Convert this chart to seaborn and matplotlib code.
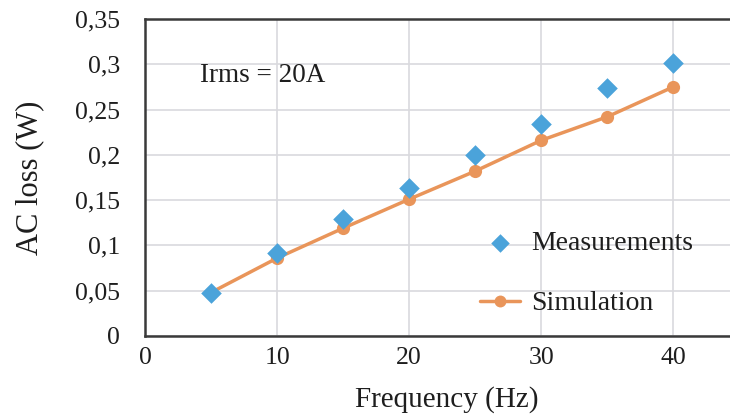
import matplotlib
matplotlib.use("Agg")
import matplotlib.pyplot as plt
import seaborn as sns
import pandas as pd

# Frequency sweep at Irms = 20 A
frequency = [5, 10, 15, 20, 25, 30, 35, 40]
measured_loss = [0.048, 0.092, 0.129, 0.163, 0.200, 0.234, 0.274, 0.301]
simulated_loss = [0.048, 0.086, 0.119, 0.151, 0.182, 0.216, 0.242, 0.275]

y_ticks = [0, 0.05, 0.1, 0.15, 0.2, 0.25, 0.3, 0.35]
y_tick_labels = ["0", "0,05", "0,1", "0,15", "0,2", "0,25", "0,3", "0,35"]
x_ticks = [0, 10, 20, 30, 40]

blue = "#4BA3DA"
orange = "#E9955A"
ink = "#1E1E1E"

sns.set_theme(style="white")
plt.rcParams["font.family"] = ["Liberation Serif", "DejaVu Serif"]

df = pd.DataFrame({"freq": frequency, "meas": measured_loss, "sim": simulated_loss})

W, H = 730, 417
fig = plt.figure(figsize=(W / 100, H / 100), dpi=100)
ax_left, ax_bottom, ax_top = 145, 336, 19
ax = fig.add_axes([ax_left / W, (H - ax_bottom) / H, 1 - ax_left / W, (ax_bottom - ax_top) / H])

sns.lineplot(data=df, x="freq", y="sim", ax=ax, color=orange, linewidth=2.5,
             marker="o", markersize=9.5, markeredgewidth=0, label="Simulation", zorder=3)
sns.scatterplot(data=df, x="freq", y="meas", ax=ax, color=blue, marker="D",
                s=110, linewidth=0, label="Measurements", zorder=4)

ax.set_xlim(0, 44.3)
ax.set_ylim(0, 0.35)
ax.set_xticks(x_ticks)
ax.set_yticks(y_ticks)
ax.set_yticklabels(y_tick_labels)
ax.tick_params(axis="both", labelsize=18.5, colors=ink, length=0)
ax.tick_params(axis="x", pad=8)
ax.tick_params(axis="y", pad=18)

ax.grid(True, color="#D9D9DE", linewidth=1.2)
ax.set_axisbelow(True)
for side in ["left", "bottom", "top"]:
    ax.spines[side].set_color("#3A3A3A")
    ax.spines[side].set_linewidth(1.8)
ax.spines["right"].set_visible(False)

plot_w = W - ax_left
plot_h = ax_bottom - ax_top
ax.set_xlabel("Frequency (Hz)", fontsize=21, color=ink)
ax.xaxis.set_label_coords((447 - ax_left) / plot_w, (ax_bottom - 386) / plot_h)
ax.set_ylabel("AC loss (W)", fontsize=22, color=ink)
ax.yaxis.set_label_coords((44 - ax_left) / plot_w, 0.5)

ax.text((200 - ax_left) / plot_w, (ax_bottom - 75) / plot_h, "Irms = 20A",
        transform=ax.transAxes, fontsize=19.5, color=ink, ha="left", va="center")

handles, labels = ax.get_legend_handles_labels()
order = [labels.index("Measurements"), labels.index("Simulation")]
ax.legend([handles[i] for i in order], [labels[i] for i in order],
          loc="center left", bbox_to_anchor=(480 / W, (H - 273.5) / H),
          bbox_transform=fig.transFigure, frameon=False, borderpad=0, borderaxespad=0,
          fontsize=20, labelspacing=1.25, handlelength=1.45, handletextpad=0.4,
          markerscale=0.9, labelcolor=ink)

fig.savefig("out.png", dpi=100)
